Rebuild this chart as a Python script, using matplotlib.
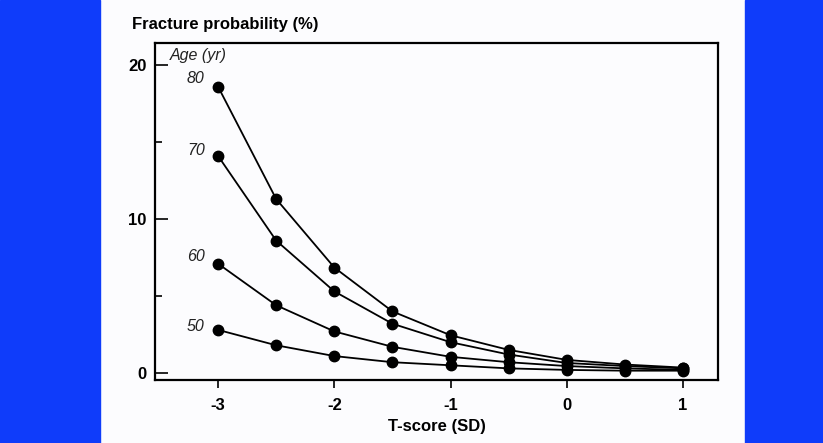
import matplotlib
matplotlib.use("Agg")
import matplotlib.pyplot as plt
from matplotlib.patches import Rectangle

t_scores = [-3, -2.5, -2, -1.5, -1, -0.5, 0, 0.5, 1]
ages = ["80", "70", "60", "50"]
prob_80 = [18.6, 11.3, 6.85, 4.0, 2.45, 1.5, 0.85, 0.55, 0.35]
prob_70 = [14.1, 8.6, 5.3, 3.2, 2.0, 1.2, 0.65, 0.45, 0.3]
prob_60 = [7.1, 4.4, 2.7, 1.7, 1.05, 0.7, 0.45, 0.3, 0.2]
prob_50 = [2.8, 1.8, 1.1, 0.7, 0.5, 0.3, 0.2, 0.15, 0.15]
series = [prob_80, prob_70, prob_60, prob_50]
x_ticks = [-3, -2, -1, 0, 1]
y_major = [0, 10, 20]
y_minor = [5, 15]

plt.rcParams['font.family'] = ['Liberation Sans', 'DejaVu Sans']

fig = plt.figure(figsize=(8.23, 4.43), dpi=100)
fig.patch.set_facecolor('#FCFCFE')
blue = '#0F3CFA'
fig.add_artist(Rectangle((0, 0), 100/823, 1, transform=fig.transFigure, color=blue, zorder=0))
fig.add_artist(Rectangle((745/823, 0), 78/823, 1, transform=fig.transFigure, color=blue, zorder=0))

ax = fig.add_axes([155/823, 1 - 380/443, (718-155)/823, (380-43)/443])
ax.set_facecolor('#FCFCFE')
for s, lab in zip(series, ages):
    ax.plot(t_scores, s, color='black', lw=1.3, marker='o', markersize=7.5, zorder=3)

ax.set_xlim(-3.542, 1.30)
ax.set_ylim(-0.455, 21.43)
ax.set_xticks(x_ticks)
ax.set_xticklabels([str(v) for v in x_ticks], fontsize=12, fontweight='bold')
ax.set_yticks(y_major)
ax.set_yticklabels([str(v) for v in y_major], fontsize=12, fontweight='bold')
ax.set_yticks(y_minor, minor=True)
ax.tick_params(axis='x', direction='out', length=6, width=1.2, pad=7)
ax.tick_params(axis='y', which='major', direction='in', length=9, width=1.2, pad=6)
ax.tick_params(axis='y', which='minor', direction='in', length=5, width=1.2)
for sp in ax.spines.values():
    sp.set_linewidth(1.6)

ax.set_xlabel('T-score (SD)', fontsize=12, fontweight='bold', labelpad=4)
fig.text(132/823, 1 - 25/443, 'Fracture probability (%)', fontsize=12, fontweight='bold',
         va='center', ha='left')

txt = dict(fontsize=11.5, fontstyle='italic', color='#222222', va='center', ha='center')
ax.text(-3.172, 20.65, 'Age (yr)', **txt)
label_y = {'80': 19.15, '70': 14.48, '60': 7.55, '50': 3.0}
for lab in ages:
    ax.text(-3.19, label_y[lab], lab, **txt)

fig.savefig('out.png', dpi=100, facecolor=fig.get_facecolor())
